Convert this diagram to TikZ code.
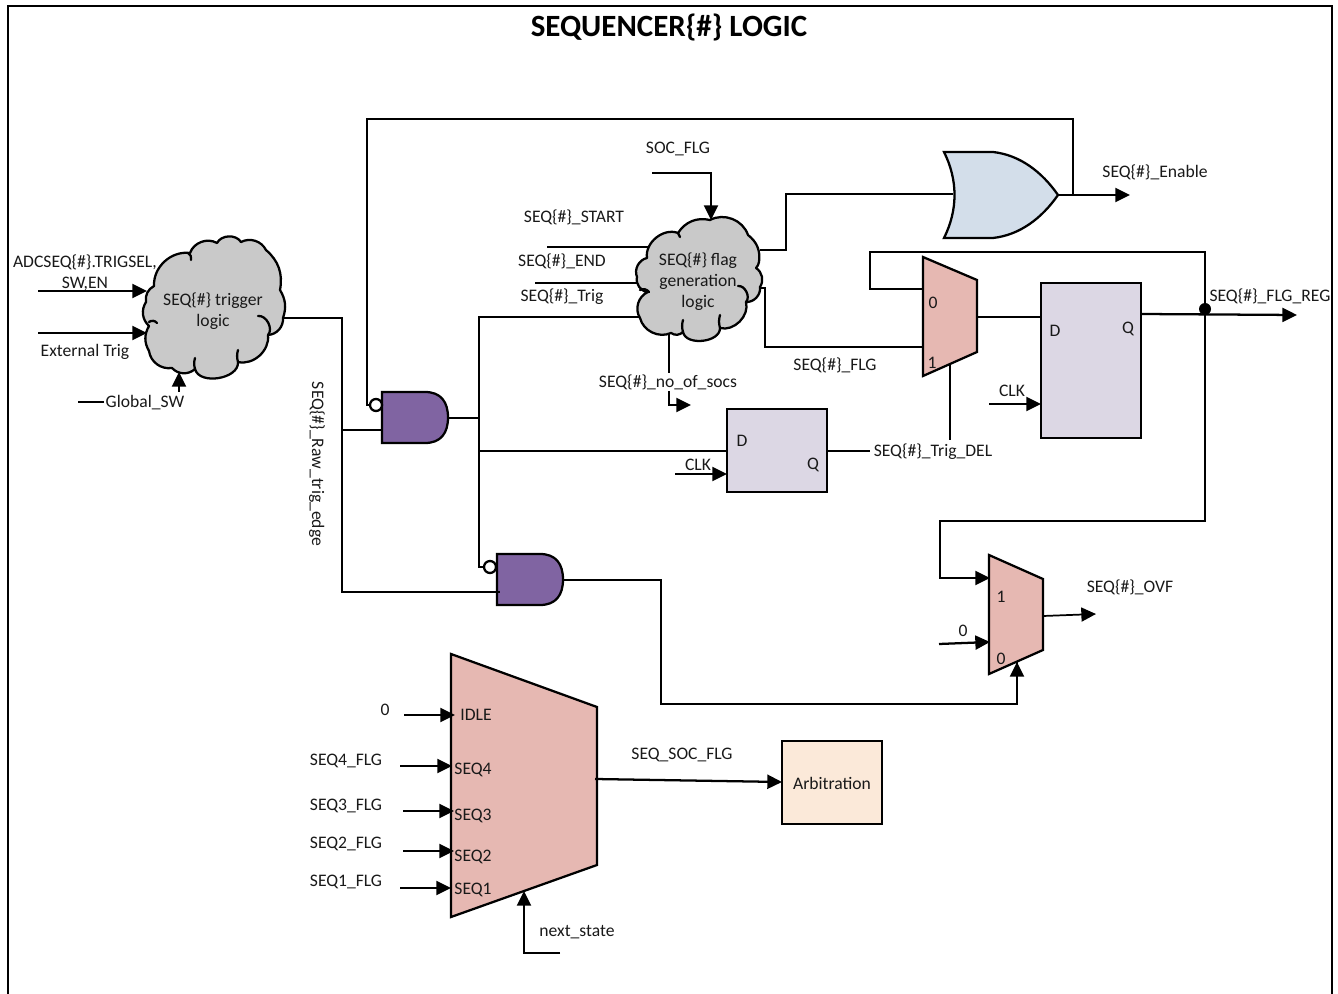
\documentclass[tikz,border=0pt]{standalone}
\usepackage{fontspec}
\setmainfont{Carlito}
\usetikzlibrary{arrows.meta,calc}
\definecolor{cloudgray}{HTML}{C9C9C9}
\definecolor{muxpink}{HTML}{E6B8B2}
\definecolor{fflilac}{HTML}{DCD7E4}
\definecolor{andpurple}{HTML}{8064A2}
\definecolor{orblue}{HTML}{D3DEEA}
\definecolor{arbpeach}{HTML}{FBE9D9}
\tikzset{
  wire/.style={line width=1.7pt,line join=miter},
  arrowwire/.style={wire,-{Triangle[length=11pt,width=10.5pt]}},
  shapeline/.style={line width=1.7pt,line join=miter},
  cloudshape/.style={shapeline,fill=cloudgray,line join=round},
  hook/.style={line width=1.7pt,line cap=round},
  lbl/.style={font=\fontsize{13.2}{15.8}\selectfont,inner sep=0pt,text=black!90,yshift=-0.75pt},
  ffbox/.style={draw,line width=1.7pt,fill=fflilac,inner sep=0pt,outer sep=0pt,anchor=north west},
  bubble/.style={circle,draw,line width=1.7pt,fill=white,inner sep=0pt,minimum size=9pt},
}
\begin{document}
\begin{tikzpicture}[x=0.75pt,y=-0.75pt]
\useasboundingbox (0,0) rectangle (1338,994);
% frame
\draw[line width=1.7pt] (8,994) -- (8,6) -- (1332,6) -- (1332,994);
\node[font=\fontsize{23.2}{26}\selectfont\bfseries,inner sep=0pt] (title) at (669,27) {SEQUENCER\{\#\} LOGIC};

% cloud 1
\draw[cloudshape] (154,286) to[bend left=50] (190,253) to[bend left=50] (217,243) to[bend left=60] (241,242)
  to[bend left=45] (266,250) to[bend left=30] (280,290) to[bend left=25] (283,318) to[bend left=45] (268,335)
  to[bend left=55] (238,362) to[bend left=85] (195,369) to[bend left=45] (172,368) to[bend left=45] (149,351)
  to[bend left=30] (149,326) to[bend left=40] (146,302) to[bend left=35] (154,286) -- cycle;
\draw[hook] (191,260) to[bend right=40] (188,253);
\draw[hook] (157,323) to[bend right=45] (149,322);
\draw[hook] (258,316) to[bend left=70] (268,335);
\draw[hook] (238,350) to[bend right=15] (238,362);
\draw[hook] (195,358) to[bend right=15] (195,369);

% cloud 2
\draw[cloudshape] (647,258) to[bend left=60] (678,233) to[bend left=35] (710,220) to[bend left=50] (748,235)
  to[bend left=30] (759,262) to[bend left=15] (756,268) to[bend left=45] (760,287) to[bend left=50] (746,302)
  to[bend left=60] (720,328) to[bend left=85] (683,332) to[bend left=40] (671,333) to[bend left=50] (640,318)
  to[bend left=50] (648,292) to[bend left=50] (637,277) to[bend left=50] (647,258) -- cycle;
\draw[hook] (680,237) to[bend right=25] (678,233);
\draw[hook] (649,292) to[bend right=40] (640,290);
\draw[hook] (738,286) to[bend left=70] (746,302);
\draw[hook] (720,315) to[bend right=15] (720,328);
\draw[hook] (683,320) to[bend right=15] (683,332);

% gates
\newcommand{\andgate}[4]{% left,top,bottom,straight end; right given by #4+23
  \draw[shapeline,fill=andpurple] (#1,#2) -- (#4,#2) .. controls ($(#4,#2)+(16,0)$) and ($(#4+23,#2)+(0,10)$) .. ($(#4+23,#2)!0.5!(#4+23,#3)$)
   .. controls ($(#4+23,#3)+(0,-10)$) and ($(#4,#3)+(16,0)$) .. (#4,#3) -- (#1,#3) -- cycle;}
\andgate{382}{392}{443}{425}
\andgate{497}{554}{605}{540}
\draw[shapeline,fill=orblue] (944,152) -- (993,152) .. controls (1020,155) and (1042,172) .. (1058,195)
  .. controls (1042,218) and (1020,235) .. (993,238) -- (944,238) .. controls (958,210) and (958,180) .. (944,152) -- cycle;
\node[bubble] (bub1) at (376,405) {};
\node[bubble] (bub2) at (490,567) {};

% muxes
\draw[shapeline,fill=muxpink] (923,257) -- (977,280) -- (977,352) -- (923,376) -- cycle;
\draw[shapeline,fill=muxpink] (989,555) -- (1043,579) -- (1043,650) -- (989,674) -- cycle;
\draw[shapeline,fill=muxpink] (451,654) -- (597,707) -- (597,865) -- (451,917) -- cycle;

% boxes
\node[ffbox,minimum width=75pt,minimum height=62.25pt] (ffa) at (727,409) {};
\node[ffbox,minimum width=75pt,minimum height=116.25pt] (ffb) at (1041,283) {};
\node[ffbox,minimum width=75pt,minimum height=62.25pt,fill=arbpeach] (arb) at (782,741) {};

% coordinates
\coordinate (adcS) at (38,291); \coordinate (adcE) at (147,291);
\coordinate (extS) at (38,333); \coordinate (extE) at (147,333);
\coordinate (gsS) at (78,402); \coordinate (gsE) at (179,402);
\coordinate (cl1Out) at (283,318);
\coordinate (jRaw) at (342,430); \coordinate (a1B) at (382,430); \coordinate (a2B) at (500,592);
\coordinate (a1O) at (449,418); \coordinate (jA) at (479,418);
\coordinate (cl2L) at (640,317);
\coordinate (ffaD) at (727,451); \coordinate (ffaC) at (727,474); \coordinate (ffaCS) at (675,474);
\coordinate (ffaQ) at (827,451); \coordinate (trigE) at (870,451);
\coordinate (sel1T) at (950,364); \coordinate (sel1B) at (950,440);
\coordinate (a2O) at (563,580);
\coordinate (m2Sel) at (1017,662);
\coordinate (orO) at (1058,195); \coordinate (enE) at (1130,195);
\coordinate (orI) at (953,194); \coordinate (cl2O) at (760,250);
\coordinate (socS) at (652,173); \coordinate (socE) at (711,220);
\coordinate (stS) at (547,247); \coordinate (stE) at (648,247);
\coordinate (endS) at (535,283); \coordinate (endE) at (637,283);
\coordinate (nosS) at (669,334); \coordinate (nosE) at (691,405);
\coordinate (flgS) at (760,288); \coordinate (m1I1) at (923,347); \coordinate (m1I0) at (923,289);
\coordinate (m1O) at (977,317); \coordinate (ffbD) at (1041,317);
\coordinate (ffbC) at (1041,404); \coordinate (ffbCS) at (989,404);
\coordinate (ffbQ) at (1141,314); \coordinate (regE) at (1297,315);
\coordinate (jReg) at (1205,309);
\coordinate (m2I1) at (990,578); \coordinate (m2I0) at (990,642); \coordinate (m2I0S) at (939,644);
\coordinate (m2O) at (1043,616); \coordinate (m2E) at (1096,614);
\coordinate (mI) at (455,715); \coordinate (mIS) at (404,715);
\coordinate (m4) at (452,766); \coordinate (m4S) at (400,766);
\coordinate (m3) at (454,811); \coordinate (m3S) at (403,811);
\coordinate (m2) at (454,851); \coordinate (m2S) at (403,851);
\coordinate (m1) at (451,888); \coordinate (m1S) at (400,888);
\coordinate (mO) at (595,779); \coordinate (arbI) at (782,782);
\coordinate (nsS) at (560,953); \coordinate (nsE) at (524,891);

% connectors
\draw[arrowwire] (adcS) -- (adcE);
\draw[arrowwire] (extS) -- (extE);
\draw[wire] (gsS) -- (105,402);
\draw[arrowwire] (179,392) -- (179,372);
\draw[wire] (cl1Out) -| (342,592) -- (a2B);
\draw[wire] (jRaw) -- (a1B);
\draw[wire] (orO -| 1073,195) -- (1073,119) -- (367,119) |- (bub1.west);
\draw[wire] (a1O) -- (jA);
\draw[wire] (cl2L) -- (479,317) |- (bub2.west);
\draw[wire] (479,451) -- (ffaD);
\draw[arrowwire] (ffaCS) -- (ffaC);
\draw[wire] (ffaQ) -- (trigE);
\draw[wire] (sel1T) -- (sel1B);
\draw[wire] (a2O) -| (661,704) -| (m2Sel) ;
\draw[arrowwire] (1017,690) -- (m2Sel);
\draw[arrowwire] (orO) -- (enE);
\draw[wire] (cl2O) -- (786,250) |- (orI);
\draw[arrowwire] (socS) -| (socE);
\draw[wire] (stS) -- (stE);
\draw[wire] (endS) -- (endE);
\draw[arrowwire] (nosS) |- (nosE);
\draw[wire] (flgS) -- (765,288) |- (m1I1);
\draw[wire] (jReg) -- (1205,252) -- (870,252) |- (m1I0);
\draw[wire] (m1O) -- (ffbD);
\draw[arrowwire] (ffbCS) -- (ffbC);
\draw[arrowwire] (ffbQ) -- (regE);
\draw[arrowwire] (jReg) -- (1205,521) -- (940,521) |- (m2I1);
\draw[arrowwire] (m2I0S) -- (m2I0);
\draw[arrowwire,line width=1.3pt] (m2O) -- (m2E);
\draw[arrowwire] (mIS) -- (mI);
\draw[arrowwire] (m4S) -- (m4);
\draw[arrowwire] (m3S) -- (m3);
\draw[arrowwire] (m2S) -- (m2);
\draw[arrowwire] (m1S) -- (m1);
\draw[arrowwire] (mO) -- (arbI);
\draw[arrowwire] (nsS) -| (nsE);
\fill (jReg) circle (6);

% labels
\node[lbl,align=center] (t1) at (85,272) {ADCSEQ\{\#\}.TRIGSEL,\\SW,EN};
\node[lbl] (t2) at (85,351) {External Trig};
\node[lbl,fill=white,inner xsep=1pt] (t3) at (145,402) {Global\_SW};
\node[lbl,align=center] (t4) at (213,310) {SEQ\{\#\} trigger\\logic};
\node[lbl,rotate=-90] (t5) at (317,463) {SEQ\{\#\}\_Raw\_trig\_edge};
\node[lbl] (t6) at (678,148) {SOC\_FLG};
\node[lbl] (t7) at (574,216) {SEQ\{\#\}\_START};
\node[lbl] (t8) at (562,260) {SEQ\{\#\}\_END};
\node[lbl] (t9) at (562,296) {SEQ\{\#\}\_Trig};
\node[lbl,align=center] (t10) at (698,280.5) {SEQ\{\#\} flag\\generation\\logic};
\node[lbl] (t11) at (835,364) {SEQ\{\#\}\_FLG};
\node[lbl,fill=white,inner ysep=1pt] (t12) at (668,381) {SEQ\{\#\}\_no\_of\_socs};
\node[lbl] (t13) at (698,464) {CLK};
\node[lbl] (t14) at (742,440) {D};
\node[lbl] (t15) at (813,464) {Q};
\node[lbl] (t16) at (1012,390) {CLK};
\node[lbl] (t17) at (1055,330) {D};
\node[lbl] (t18) at (1128,328) {Q};
\node[lbl] (t19) at (933,302) {0};
\node[lbl] (t20) at (932,362) {1};
\node[lbl] (t21) at (933,451) {SEQ\{\#\}\_Trig\_DEL};
\node[lbl] (t22) at (1270,295) {SEQ\{\#\}\_FLG\_REG};
\node[lbl] (t23) at (1155,171) {SEQ\{\#\}\_Enable};
\node[lbl] (t24) at (1130,586) {SEQ\{\#\}\_OVF};
\node[lbl] (t25) at (1001,596) {1};
\node[lbl] (t26) at (1001,658) {0};
\node[lbl] (t27) at (963,630) {0};
\node[lbl] (t28) at (385,709) {0};
\node[lbl] (t29) at (476,714) {IDLE};
\node[lbl] (t30) at (346,760) {SEQ4\_FLG};
\node[lbl] (t31) at (473,769) {SEQ4};
\node[lbl] (t32) at (346,805) {SEQ3\_FLG};
\node[lbl] (t33) at (473,815) {SEQ3};
\node[lbl] (t34) at (346,843) {SEQ2\_FLG};
\node[lbl] (t35) at (473,856) {SEQ2};
\node[lbl] (t36) at (346,881) {SEQ1\_FLG};
\node[lbl] (t37) at (473,889) {SEQ1};
\node[lbl] (t38) at (682,754) {SEQ\_SOC\_FLG};
\node[lbl] (t39) at (832,782) {Arbitration};
\node[lbl] (t40) at (577,931) {next\_state};
\end{tikzpicture}
\end{document}
